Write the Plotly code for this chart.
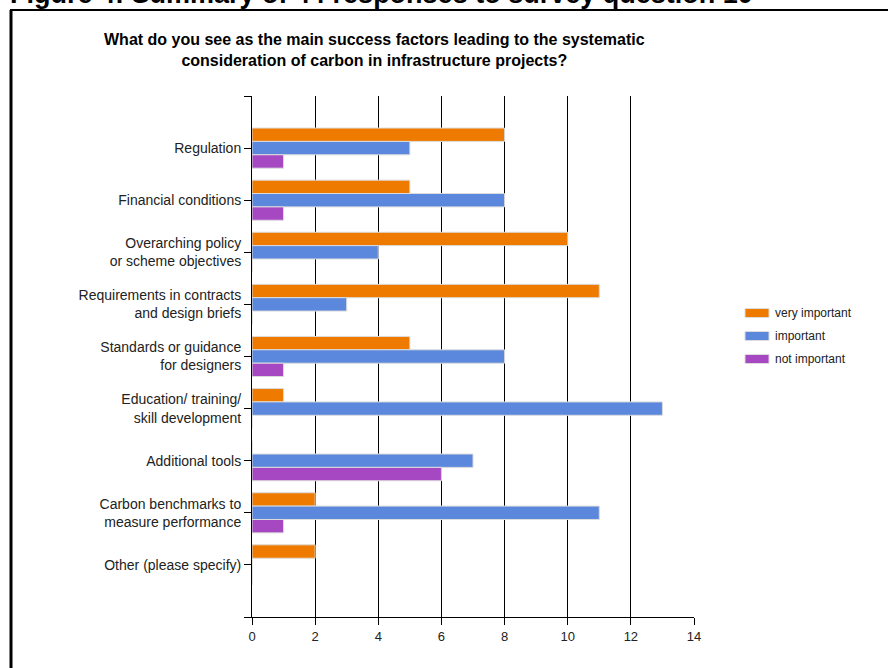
import plotly.graph_objects as go

categories = [
    "Regulation",
    "Financial conditions",
    "Overarching policy<br>or scheme objectives",
    "Requirements in contracts<br>and design briefs",
    "Standards or guidance<br>for designers",
    "Education/ training/<br>skill development",
    "Additional tools",
    "Carbon benchmarks to<br>measure performance",
    "Other (please specify)",
]
very_important = [8, 5, 10, 11, 5, 1, 0, 2, 2]
important = [5, 8, 4, 3, 8, 13, 7, 11, 0]
not_important = [1, 1, 0, 0, 1, 0, 6, 1, 0]
series_names = ["very important", "important", "not important"]
series_colors = ["#EE7A00", "#5B88DD", "#A648C2"]
x_ticks = [0, 2, 4, 6, 8, 10, 12, 14]

positions = list(range(len(categories)))

fig = go.Figure()
for name, vals, col in zip(series_names, [very_important, important, not_important], series_colors):
    fig.add_trace(go.Bar(
        y=positions, x=vals, name=name, orientation="h",
        marker=dict(color=col, line=dict(color="#DCDCDC", width=1)),
        showlegend=False,
    ))

fig.update_layout(
    width=888, height=668,
    margin=dict(l=252, r=194, t=96, b=51),
    paper_bgcolor="white", plot_bgcolor="white",
    barmode="group", bargap=0.23, bargroupgap=0,
    font=dict(family="Liberation Sans, Arial, sans-serif", size=14, color="#222222"),
)
fig.update_xaxes(
    range=[0, 14], tickvals=x_ticks, showgrid=True, gridcolor="black", gridwidth=1,
    zeroline=False, showline=True, linecolor="black", linewidth=1,
    ticks="outside", ticklen=7, tickcolor="black", tickfont=dict(size=13, color="#222222"),
)
fig.update_yaxes(
    range=[len(categories), -1],
    tickvals=[-1] + positions + [len(categories)],
    ticktext=[""] + categories + [""],
    showgrid=False, zeroline=False, showline=True, linecolor="black", linewidth=1,
    ticks="outside", ticklen=7, tickcolor="black", tickfont=dict(size=14, color="#222222"),
)

def px_x(p):
    return (p - 252) / 442.0

def px_y(p):
    return (617 - p) / 521.0

# Figure heading (cut off at the top, as in the reference)
fig.add_annotation(
    text="<b>Figure 4: Summary of 44 responses to survey question 10</b>",
    xref="paper", yref="paper", x=px_x(8), y=px_y(11), xanchor="left", yanchor="bottom",
    showarrow=False, font=dict(size=27, color="black", family="Liberation Sans, Arial, sans-serif"),
)
# Frame
fig.add_shape(type="line", xref="paper", yref="paper", x0=px_x(11), x1=px_x(11), y0=px_y(10), y1=px_y(700),
              line=dict(color="black", width=3))
fig.add_shape(type="line", xref="paper", yref="paper", x0=px_x(10), x1=px_x(900), y0=px_y(10), y1=px_y(10),
              line=dict(color="black", width=2))

# Chart title
fig.add_annotation(
    text="<b>What do you see as the main success factors leading to the systematic<br>consideration of carbon in infrastructure projects?</b>",
    xref="paper", yref="paper", x=px_x(374), y=px_y(50.5), xanchor="center", yanchor="middle",
    showarrow=False, align="center", font=dict(size=16, color="black"),
)

# Legend
for i, (name, col) in enumerate(zip(series_names, series_colors)):
    cy = 313 + 23 * i
    fig.add_shape(type="rect", xref="paper", yref="paper",
                  x0=px_x(745), x1=px_x(769), y0=px_y(cy - 4.5), y1=px_y(cy + 4.5),
                  fillcolor=col, line=dict(color="#DCDCDC", width=1))
    fig.add_annotation(text=name, xref="paper", yref="paper", x=px_x(773), y=px_y(cy),
                       xanchor="left", yanchor="middle", showarrow=False,
                       font=dict(size=12, color="#222222"))

fig.write_html(
    "out.html",
    config={"displayModeBar": False},
    post_script="document.body.style.margin='0px';document.body.style.overflow='hidden';",
)
